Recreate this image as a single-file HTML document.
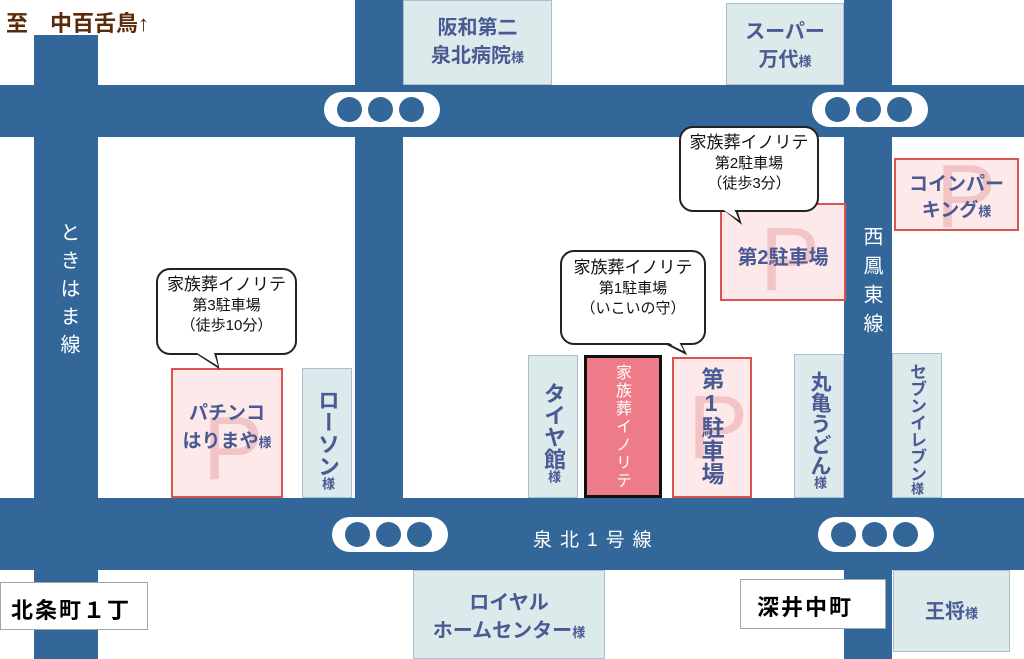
<!DOCTYPE html>
<html><head><meta charset="utf-8"><style>
body{margin:0;width:1024px;height:659px;position:relative;overflow:hidden;background:#fff;font-family:"Liberation Sans","Noto Sans CJK JP",sans-serif}
div{position:absolute;box-sizing:border-box}
.r{background:#336699}
.b{background:#dceaec;border:1px solid #a9bfd0;color:#4a5a93;text-align:center;font-weight:bold}
.p{background:#fde9ea;border:2px solid #d9534f;color:#4a5a93;text-align:center;font-weight:bold}
.pill{background:#fff;border-radius:18px;height:35px;width:116px}
.pill i{position:absolute;top:5px;width:25px;height:25px;border-radius:50%;background:#336699}
.bub{background:#fff;border:2px solid #222;border-radius:14px;text-align:center;color:#111;font-size:15px;line-height:20px}
.v{writing-mode:vertical-rl;text-orientation:upright}
.P{color:#f2c4c6;font-size:90px;font-weight:normal;line-height:1}
small{font-size:13px}
</style></head><body>
<div class="r" style="left:0;top:85px;width:1024px;height:52px"></div>
<div class="r" style="left:0;top:498px;width:1024px;height:72px"></div>
<div class="r" style="left:34px;top:35px;width:64px;height:624px"></div>
<div class="r" style="left:355px;top:0;width:48px;height:500px"></div>
<div class="r" style="left:844px;top:0;width:48px;height:659px"></div>
<div class="pill" style="left:324px;top:92px"><i style="left:13px"></i><i style="left:44px"></i><i style="left:75px"></i></div>
<div class="pill" style="left:812px;top:92px"><i style="left:13px"></i><i style="left:44px"></i><i style="left:75px"></i></div>
<div class="pill" style="left:332px;top:517px"><i style="left:13px"></i><i style="left:44px"></i><i style="left:75px"></i></div>
<div class="pill" style="left:818px;top:517px"><i style="left:13px"></i><i style="left:44px"></i><i style="left:75px"></i></div>
<div style="left:6px;top:6px;color:#5a2a0a;font-size:22px;font-weight:bold;white-space:nowrap">至　中百舌鳥↑</div>
<div class="v" style="left:54px;top:222px;color:#fff;font-size:20px;letter-spacing:8px">ときはま線</div>
<div class="v" style="left:857px;top:226px;color:#fff;font-size:20px;letter-spacing:9px">西鳳東線</div>
<div style="left:533px;top:525px;color:#fff;font-size:19px;letter-spacing:8px;white-space:nowrap">泉北1号線</div>
<div class="b" style="left:403px;top:0;width:149px;height:85px;font-size:20px;line-height:28px;padding-top:13px">阪和第二<br>泉北病院<small>様</small></div>
<div class="b" style="left:726px;top:3px;width:118px;height:82px;font-size:20px;line-height:28px;padding-top:14px">スーパー<br>万代<small>様</small></div>
<div class="p" style="left:894px;top:158px;width:125px;height:73px;"><div class="P" style="left:40px;top:-8px">P</div><div style="left:0;top:12px;width:121px;font-size:19px;line-height:26px">コインパー<br>キング<small>様</small></div></div>
<div class="p" style="left:720px;top:203px;width:126px;height:98px"><div class="P" style="left:38px;top:10px">P</div><div style="left:0;top:36px;width:122px;font-size:20px">第2駐車場</div></div>
<div class="p" style="left:171px;top:368px;width:112px;height:130px"><div class="P" style="left:30px;top:34px">P</div><div style="left:0;top:30px;width:108px;font-size:19px;line-height:28px">パチンコ<br>はりまや<small>様</small></div></div>
<div class="b v" style="left:302px;top:368px;width:50px;height:130px;font-size:22px;padding-right:11px;padding-top:12px;line-height:26px">ローソン<small>様</small></div>
<div class="b v" style="left:528px;top:355px;width:50px;height:143px;font-size:22px;padding-right:11px;padding-top:12px;line-height:26px">タイヤ館<small>様</small></div>
<div class="v" style="left:584px;top:355px;width:78px;height:143px;background:#ee7b88;border:3px solid #111;color:#fff;font-size:16px;padding-right:26px;padding-top:6px;letter-spacing:2px">家族葬イノリテ</div>
<div class="p" style="left:672px;top:357px;width:80px;height:141px"><div class="P" style="left:14px;top:24px">P</div><div class="v" style="left:18px;top:8px;font-size:23px;line-height:38px">第1駐車場</div></div>
<div class="b v" style="left:794px;top:354px;width:50px;height:144px;font-size:21px;padding-right:11px;padding-top:8px;line-height:26px">丸亀うどん<small>様</small></div>
<div class="b v" style="left:892px;top:353px;width:50px;height:145px;font-size:17px;padding-right:14px;padding-top:6px;line-height:22px;white-space:nowrap">セブンイレブン<small>様</small></div>
<div style="left:0;top:582px;width:148px;height:48px;border:1px solid #9aa;background:#fff;font-size:22px;font-weight:bold;padding:10px 0 0 10px;letter-spacing:2px">北条町１丁</div>
<div class="b" style="left:413px;top:570px;width:192px;height:89px;font-size:20px;line-height:28px;padding-top:18px">ロイヤル<br>ホームセンター<small>様</small></div>
<div style="left:740px;top:579px;width:146px;height:50px;border:1px solid #9aa;background:#fff;font-size:22px;font-weight:bold;padding:10px 0 0 16px;letter-spacing:2px">深井中町</div>
<div class="b" style="left:893px;top:570px;width:117px;height:82px;font-size:20px;padding-top:24px">王将<small>様</small></div>
<svg style="position:absolute;left:0;top:0" width="1024" height="659">
<polygon points="195,352 218,367 215,352" fill="#fff" stroke="#222" stroke-width="2"/>
<polygon points="720,206 740,222 735,206" fill="#fff" stroke="#222" stroke-width="2"/>
<polygon points="665,343 685,353 680,343" fill="#fff" stroke="#222" stroke-width="2"/>
</svg>
<div class="bub" style="left:156px;top:268px;width:141px;height:87px;padding-top:5px"><span style="font-size:17px">家族葬イノリテ</span><br>第3駐車場<br>（徒歩10分）</div>
<div class="bub" style="left:679px;top:126px;width:140px;height:86px;padding-top:5px"><span style="font-size:17px">家族葬イノリテ</span><br>第2駐車場<br>（徒歩3分）</div>
<div class="bub" style="left:560px;top:250px;width:146px;height:95px;padding-top:6px"><span style="font-size:17px">家族葬イノリテ</span><br>第1駐車場<br>（いこいの守）</div>
<svg style="position:absolute;left:0;top:0" width="1024" height="659">
<polygon points="197,353 218,366 214,353" fill="#fff"/>
<polygon points="722,209 739,220 734,209" fill="#fff"/>
<polygon points="667,342 684,351 679,342" fill="#fff"/>
</svg>
</body></html>
